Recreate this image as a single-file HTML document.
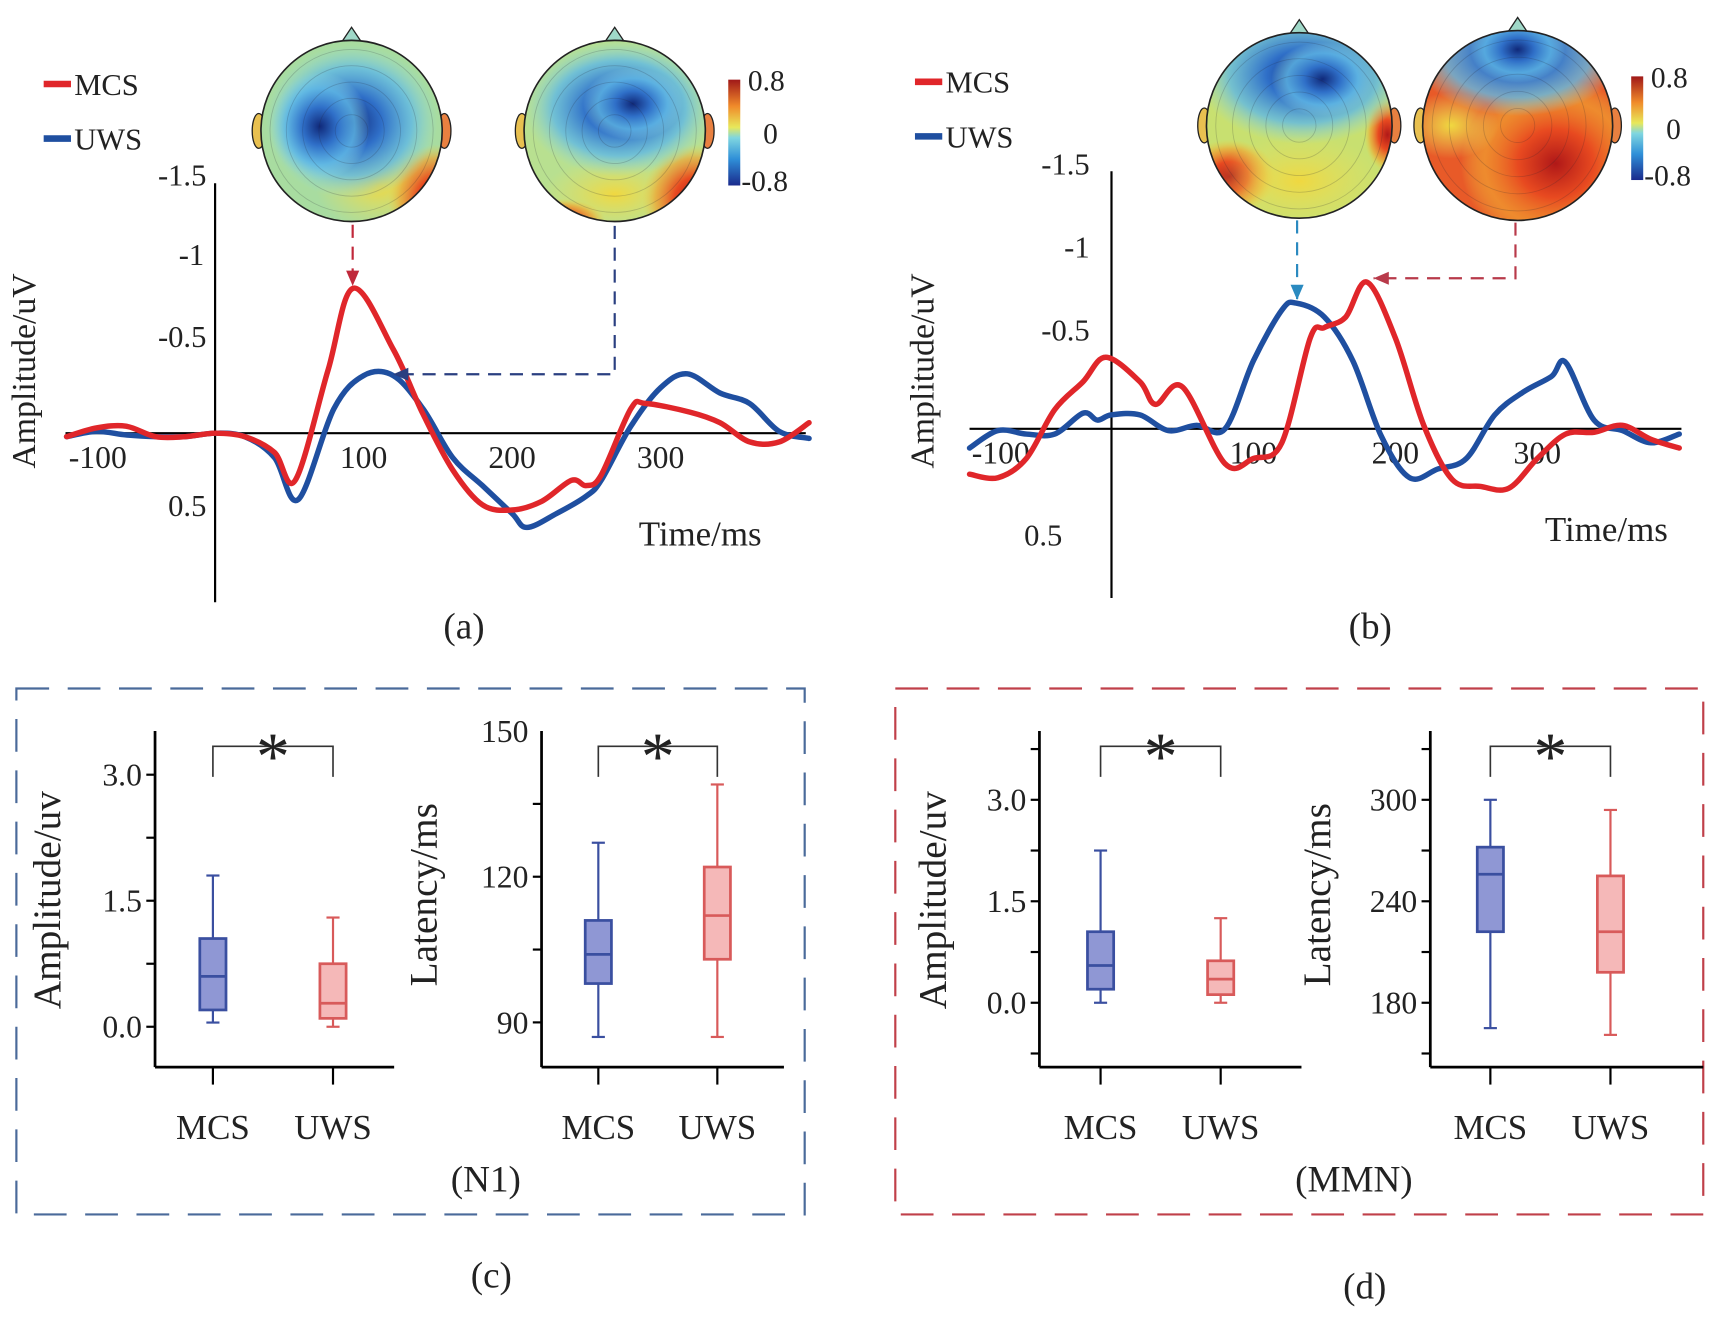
<!DOCTYPE html>
<html><head><meta charset="utf-8"><style>
html,body{margin:0;padding:0;background:#fff}
svg{display:block}
text{font-family:"Liberation Serif",serif;fill:#222}
</style></head><body>
<svg id="fig" width="1712" height="1329" viewBox="0 0 1568 1218" preserveAspectRatio="none" xmlns="http://www.w3.org/2000/svg">
<defs>
<linearGradient id="cbar" x1="0" y1="1" x2="0" y2="0">
<stop offset="0" stop-color="#1a2a8c"/><stop offset="0.25" stop-color="#2f8fd8"/><stop offset="0.45" stop-color="#7fd6e0"/><stop offset="0.55" stop-color="#e8e85a"/><stop offset="0.75" stop-color="#f08a2a"/><stop offset="1" stop-color="#a01818"/></linearGradient>
<radialGradient id="blueBlob"><stop offset="0" stop-color="#10297a"/><stop offset="0.35" stop-color="#2f6fc8"/><stop offset="0.7" stop-color="#5fb8e6" stop-opacity="0.8"/><stop offset="1" stop-color="#8fd8e0" stop-opacity="0"/></radialGradient>
<radialGradient id="redBlob"><stop offset="0" stop-color="#b01818"/><stop offset="0.4" stop-color="#e84a20"/><stop offset="0.75" stop-color="#f0a030" stop-opacity="0.7"/><stop offset="1" stop-color="#f0d040" stop-opacity="0"/></radialGradient>
<radialGradient id="yelBlob"><stop offset="0" stop-color="#f0d840"/><stop offset="1" stop-color="#e8e060" stop-opacity="0"/></radialGradient>
</defs>
<g id="root"></g>
</svg>
<script>
// ---------- Panel (a) data ----------
const aMcsT=[-100,-80,-60,-40,-20,0,20,40,54,76,93,120,140,160,180,200,220,240,250,260,280,290,320,340,360,380,400];
const aMcsV=[0.02,-0.03,-0.04,0.02,0.02,0,0.02,0.11,0.27,-0.36,-0.83,-0.48,-0.11,0.21,0.41,0.44,0.39,0.27,0.30,0.24,-0.14,-0.17,-0.12,-0.06,0.05,0.05,-0.06];
const aUwsT=[-100,-80,-60,-40,-20,0,20,40,56,80,100,120,140,160,180,200,210,230,250,260,280,300,318,340,360,380,400];
const aUwsV=[0.02,-0.01,0.01,0.02,0.02,0,0.02,0.14,0.38,-0.14,-0.33,-0.33,-0.14,0.14,0.30,0.46,0.54,0.46,0.36,0.27,-0.04,-0.26,-0.34,-0.23,-0.17,-0.01,0.03];
// ---------- Panel (b) data ----------
const bMcsT=[-100,-80,-60,-40,-20,-4,20,31,50,80,100,120,140,150,165,180,200,220,240,260,280,300,320,340,360,380,400];
const bMcsV=[0.26,0.28,0.17,-0.11,-0.27,-0.41,-0.27,-0.14,-0.24,0.20,0.17,0.08,-0.52,-0.58,-0.64,-0.84,-0.52,-0.02,0.29,0.33,0.34,0.17,0.03,0.02,-0.02,0.06,0.11];
const bUwsT=[-100,-80,-60,-40,-20,-10,0,20,40,60,80,100,120,130,150,170,190,210,230,250,270,290,310,320,340,360,380,400];
const bUwsV=[0.11,0.01,0.03,0.03,-0.09,-0.05,-0.08,-0.08,0.01,-0.02,0,-0.39,-0.68,-0.72,-0.64,-0.39,0.04,0.28,0.23,0.17,-0.08,-0.21,-0.30,-0.38,-0.05,0.01,0.08,0.03];
const timeTicks=[-100,100,200,300];
const ampTickLabels=["-1.5","-1","-0.5","0.5"];
const ampTickVals=[-1.5,-1,-0.5,0.5];
// ---------- Box plot data [whiskerLo, q1, median, q3, whiskerHi] ----------
const groups=["MCS","UWS"];
const n1AmpMcs=[0.05,0.2,0.6,1.05,1.8];
const n1AmpUws=[0.0,0.1,0.28,0.75,1.3];
const n1LatMcs=[87,98,104,111,127];
const n1LatUws=[87,103,112,122,139];
const mmnAmpMcs=[0.0,0.2,0.55,1.05,2.25];
const mmnAmpUws=[0.0,0.12,0.35,0.62,1.25];
const mmnLatMcs=[165,222,256,272,300];
const mmnLatUws=[161,198,222,255,294];
const ampTicks=[0.0,1.5,3.0];
const n1LatTicks=[90,120,150];
const mmnLatTicks=[180,240,300];

const NS="http://www.w3.org/2000/svg";
const root=document.getElementById('root');
const defs=document.querySelector('defs');
function el(tag,attrs,parent,txt){const e=document.createElementNS(NS,tag);for(const k in attrs)e.setAttribute(k,attrs[k]);if(txt!==undefined)e.textContent=txt;(parent||root).appendChild(e);return e;}
const RED="#e0262a",BLUE="#1f4fa0";

function smooth(P){let d='M'+P[0][0].toFixed(1)+','+P[0][1].toFixed(1);
  for(let i=0;i<P.length-1;i++){const p0=P[Math.max(0,i-1)],p1=P[i],p2=P[i+1],p3=P[Math.min(P.length-1,i+2)];
    const c1=[p1[0]+(p2[0]-p0[0])/6,p1[1]+(p2[1]-p0[1])/6],c2=[p2[0]-(p3[0]-p1[0])/6,p2[1]-(p3[1]-p1[1])/6];
    d+=`C${c1[0].toFixed(1)},${c1[1].toFixed(1)} ${c2[0].toFixed(1)},${c2[1].toFixed(1)} ${p2[0].toFixed(1)},${p2[1].toFixed(1)}`;}
  return d;}

function erpPanel(id,o){
  const g=el('g',{});
  
  
  const X=t=>o.x0+t*o.kx, Y=v=>o.y0+v*o.ky;
  const xa=el('line',{x1:o.xl,y1:o.y0,x2:o.xr,y2:o.y0,stroke:'#000','stroke-width':2},g);
  
  const ya=el('line',{x1:o.x0,y1:o.yt,x2:o.x0,y2:o.yb,stroke:'#000','stroke-width':2},g);
  
  timeTicks.forEach(t=>{const tx=el('text',{x:X(t)+(t==-100?2:0),y:o.y0+32,'font-size':29,'text-anchor':t==-100?'start':'middle'},g,String(t));
    });
  ampTickVals.forEach((v,i)=>{const tx=el('text',{x:o.x0-o.labOff[i],y:o.labY[i],'font-size':28,'text-anchor':'end'},g,ampTickLabels[i]);
    });
  const yt=el('text',{x:0,y:0,'font-size':31,'text-anchor':'middle',transform:`translate(${o.ytx},${o.yty}) rotate(-90)`},g,'Amplitude/uV');
  
  const xt=el('text',{x:o.xtx,y:o.y0+103,'font-size':32},g,'Time/ms');
  
  function line(T,V,col,name){const P=T.map((t,i)=>[X(t),Y(V[i])]);
    const p=el('path',{d:smooth(P),fill:'none',stroke:col,'stroke-width':5,'stroke-linejoin':'round','stroke-linecap':'round'},g);
    }
  line(o.uT,o.uV,BLUE,'uws-line');
  line(o.mT,o.mV,RED,'mcs-line');
  [[RED,'MCS',o.legY],[BLUE,'UWS',o.legY+50]].forEach(([c,l,y])=>{
    const lg=el('g',{},g);
    el('line',{x1:o.legX,y1:y,x2:o.legX+25,y2:y,stroke:c,'stroke-width':6},lg);
    el('text',{x:o.legX+28,y:y+10,'font-size':28},lg,l);});
  const cap=el('text',{x:o.capX,y:585,'font-size':34,'text-anchor':'middle'},g,o.cap);
  
  return g;
}
erpPanel('a',{x0:197,kx:1.36,y0:397,ky:160,xl:60,xr:738,yt:168,yb:552,labOff:[8,10,8,8],labY:[170,243,318,473],
  ytx:32,yty:340,xtx:585,mT:aMcsT,mV:aMcsV,uT:aUwsT,uV:aUwsV,legX:40,legY:77,capX:425,cap:'(a)'});
erpPanel('b',{x0:1018,kx:1.30,y0:393,ky:160,xl:888,xr:1540,yt:157,yb:548,labOff:[20,20,20,45],labY:[160,236,312,500],
  ytx:855,yty:340,xtx:1415,mT:bMcsT,mV:bMcsV,uT:bUwsT,uV:bUwsV,legX:838,legY:75,capX:1255,cap:'(b)'});

// topomaps: base colour + blobs, clipped to head
let clipN=0;
function topo(cx,cy,r,base,blobs,name){
  const g=el('g',{});
  const id='clip'+(clipN++);const cp=el('clipPath',{id:id},defs);el('circle',{cx:cx,cy:cy,r:r},cp);
  el('path',{d:`M${cx-10},${cy-r+3} L${cx},${cy-r-12} L${cx+10},${cy-r+3}`,fill:'#9fd8c8',stroke:'#222','stroke-width':1.2},g);
  el('ellipse',{cx:cx-r-2,cy:cy,rx:6,ry:16,fill:'#e8c050',stroke:'#222','stroke-width':1.2},g);
  el('ellipse',{cx:cx+r+2,cy:cy,rx:6,ry:16,fill:'#e88040',stroke:'#222','stroke-width':1.2},g);
  const inner=el('g',{'clip-path':`url(#${id})`},g);
  el('circle',{cx:cx,cy:cy,r:r,fill:base},inner);
  blobs.forEach(b=>el('ellipse',{cx:cx+b[1]*r,cy:cy+b[2]*r,rx:b[3]*r,ry:b[4]*r,fill:`url(#${b[0]})`},inner));
  for(let i=1;i<6;i++)el('circle',{cx:cx,cy:cy,r:r*i*0.18,fill:'none',stroke:'#223',"stroke-opacity":0.2,'stroke-width':0.8},inner);
  el('circle',{cx:cx,cy:cy,r:r,fill:'none',stroke:'#222','stroke-width':1.5},g);
}
topo(322,120,83,'#a8dca0',[['yelBlob',0.3,0.6,0.7,0.5],['redBlob',0.95,0.75,0.55,0.6],['blueBlob',0.0,-0.1,0.95,0.85],['blueBlob',-0.35,-0.05,0.55,0.6]],'topomap-a-mcs');
topo(563,120,83,'#b8e090',[['yelBlob',0,0.7,0.8,0.4],['redBlob',0.9,0.75,0.6,0.6],['redBlob',-0.6,1.0,0.5,0.25],['blueBlob',0.05,-0.25,1.05,0.75],['blueBlob',0.2,-0.3,0.55,0.4]],'topomap-a-uws');
topo(1190,115,85,'#c8e070',[['redBlob',-0.75,0.55,0.5,0.4],['yelBlob',0,0.6,0.9,0.5],['redBlob',0.95,0.1,0.25,0.4],['blueBlob',0.05,-0.55,1.15,0.75],['blueBlob',0.25,-0.5,0.55,0.4]],'topomap-b-uws');
topo(1390,115,87,'#e85a28',[['redBlob',0.4,0.4,1.0,0.9],['yelBlob',-0.7,0.0,0.5,0.35],['blueBlob',0.0,-0.75,1.1,0.65],['blueBlob',0.0,-0.8,0.5,0.35]],'topomap-b-mcs');
function cbar(x,y,h,name){const g=el('g',{});
  el('rect',{x:x,y:y,width:11,height:h,fill:'url(#cbar)'},g);
  el('text',{x:x+18,y:y+10,'font-size':27},g,'0.8');el('text',{x:x+32,y:y+h/2+10,'font-size':27},g,'0');el('text',{x:x+12,y:y+h+5,'font-size':27},g,'-0.8');}
cbar(667,73,97,'colorbar-a');cbar(1494,70,95,'colorbar-b');

function arrow(pts,col,name){const g=el('g',{});
  el('polyline',{points:pts.map(p=>p.join(',')).join(' '),fill:'none',stroke:col,'stroke-width':2,'stroke-dasharray':'12,8'},g);
  const [x2,y2]=pts[pts.length-1],[x1,y1]=pts[pts.length-2];const a=Math.atan2(y2-y1,x2-x1);
  const p=[[x2,y2],[x2-14*Math.cos(a)+6*Math.sin(a),y2-14*Math.sin(a)-6*Math.cos(a)],[x2-14*Math.cos(a)-6*Math.sin(a),y2-14*Math.sin(a)+6*Math.cos(a)]];
  el('polygon',{points:p.map(q=>q.join(',')).join(' '),fill:col},g);}
arrow([[323,206],[323,262]],'#c0283a','arrow-a-mcs');
arrow([[563,207],[563,343],[360,343]],'#2a3f80','arrow-a-uws');
arrow([[1188,202],[1188,275]],'#2a8ac0','arrow-b-uws');
arrow([[1388,204],[1388,255],[1258,255]],'#b83a4a','arrow-b-mcs');

function dbox(x,y,w,h,c,name){const r=el('rect',{x:x,y:y,width:w,height:h,fill:'none',stroke:c,'stroke-width':2,'stroke-dasharray':'30,17'});
  }
dbox(15,631,722,482,'#4a6a9a','n1-group-box');
dbox(820,631,740,482,'#c0404a','mmn-group-box');

function boxPlot(name,o){
  const g=el('g',{});
  const Y=v=>o.yRef+(o.vRef-v)*o.k;
  const xs=[o.xL+ (o.m1), o.xL+(o.m2)];
  const ya=el('line',{x1:o.xL,y1:o.yTop,x2:o.xL,y2:o.yBot,stroke:'#000','stroke-width':2.5},g);
  
  const xa=el('line',{x1:o.xL,y1:o.yBot,x2:o.xR,y2:o.yBot,stroke:'#000','stroke-width':2.5},g);
  
  for(let v=o.minorStart;v<=o.minorEnd+1e-6;v+=o.minorStep){const y=Y(v);if(y>o.yTop&&y<o.yBot)el('line',{x1:o.xL-8,y1:y,x2:o.xL,y2:y,stroke:'#000','stroke-width':2},g);}
  o.ticks.forEach(v=>{const t=el('text',{x:o.xL-12,y:Y(v)+10,'font-size':29,'text-anchor':'end'},g,o.fmt(v));
    });
  const yt=el('text',{x:0,y:0,'font-size':36,'text-anchor':'middle',transform:`translate(${o.titleX},${o.titleY}) rotate(-90)`},g,o.title);
  
  [o.d1,o.d2].forEach((d,i)=>{const x=xs[i];const col=i?'#d85a5a':'#3a4fa0',fill=i?'#f5b8b8':'#8f97d4';
    const b=el('g',{},g);
    el('line',{x1:x,y1:Y(d[0]),x2:x,y2:Y(d[4]),stroke:col,'stroke-width':2},b);
    el('line',{x1:x-6,y1:Y(d[0]),x2:x+6,y2:Y(d[0]),stroke:col,'stroke-width':2},b);
    el('line',{x1:x-6,y1:Y(d[4]),x2:x+6,y2:Y(d[4]),stroke:col,'stroke-width':2},b);
    el('rect',{x:x-12,y:Y(d[3]),width:24,height:Y(d[1])-Y(d[3]),fill:fill,stroke:col,'stroke-width':2.5},b);
    el('line',{x1:x-12,y1:Y(d[2]),x2:x+12,y2:Y(d[2]),stroke:col,'stroke-width':2.5},b);
    el('line',{x1:x,y1:o.yBot,x2:x,y2:o.yBot+16,stroke:'#000','stroke-width':2},g);
    const l=el('text',{x:x,y:o.yBot+66,'font-size':32,'text-anchor':'middle'},g,groups[i]);
    });
  const br=el('polyline',{points:`${xs[0]},${o.yTop+42} ${xs[0]},${o.yTop+14} ${xs[1]},${o.yTop+14} ${xs[1]},${o.yTop+42}`,fill:'none',stroke:'#333','stroke-width':1.5},g);
  
  const st=el('text',{x:(xs[0]+xs[1])/2,y:o.yTop+44,'font-size':62,'text-anchor':'middle'},g,'*');
  
}
const f1=v=>v.toFixed(1),f0=v=>String(v);
boxPlot('n1-amplitude-boxplot',{xL:142,xR:361,m1:53,m2:163,yTop:670,yBot:978,yRef:941,vRef:0,k:77,ticks:ampTicks,fmt:f1,minorStart:0,minorEnd:3.75,minorStep:0.75,title:'Amplitude/uv',titleX:55,titleY:825,d1:n1AmpMcs,d2:n1AmpUws});
boxPlot('n1-latency-boxplot',{xL:496,xR:718,m1:52,m2:161,yTop:670,yBot:978,yRef:937,vRef:90,k:133.5/30,ticks:n1LatTicks,fmt:f0,minorStart:90,minorEnd:150,minorStep:15,title:'Latency/ms',titleX:400,titleY:820,d1:n1LatMcs,d2:n1LatUws});
boxPlot('mmn-amplitude-boxplot',{xL:952,xR:1192,m1:56,m2:166,yTop:670,yBot:978,yRef:919,vRef:0,k:93/1.5,ticks:ampTicks,fmt:f1,minorStart:-0.75,minorEnd:3.75,minorStep:0.75,title:'Amplitude/uv',titleX:866,titleY:825,d1:mmnAmpMcs,d2:mmnAmpUws});
boxPlot('mmn-latency-boxplot',{xL:1310,xR:1560,m1:55,m2:165,yTop:670,yBot:978,yRef:919,vRef:180,k:93/60,ticks:mmnLatTicks,fmt:f0,minorStart:150,minorEnd:330,minorStep:30,title:'Latency/ms',titleX:1218,titleY:820,d1:mmnLatMcs,d2:mmnLatUws});

[['(N1)',445,1092,'n1-label'],['(MMN)',1240,1092,'mmn-label'],['(c)',450,1180,'panel-caption-c'],['(d)',1250,1190,'panel-caption-d']].forEach(([t,x,y,n])=>{
  const e=el('text',{x:x,y:y,'font-size':34,'text-anchor':'middle'},root,t);
  });
</script>
</body></html>
